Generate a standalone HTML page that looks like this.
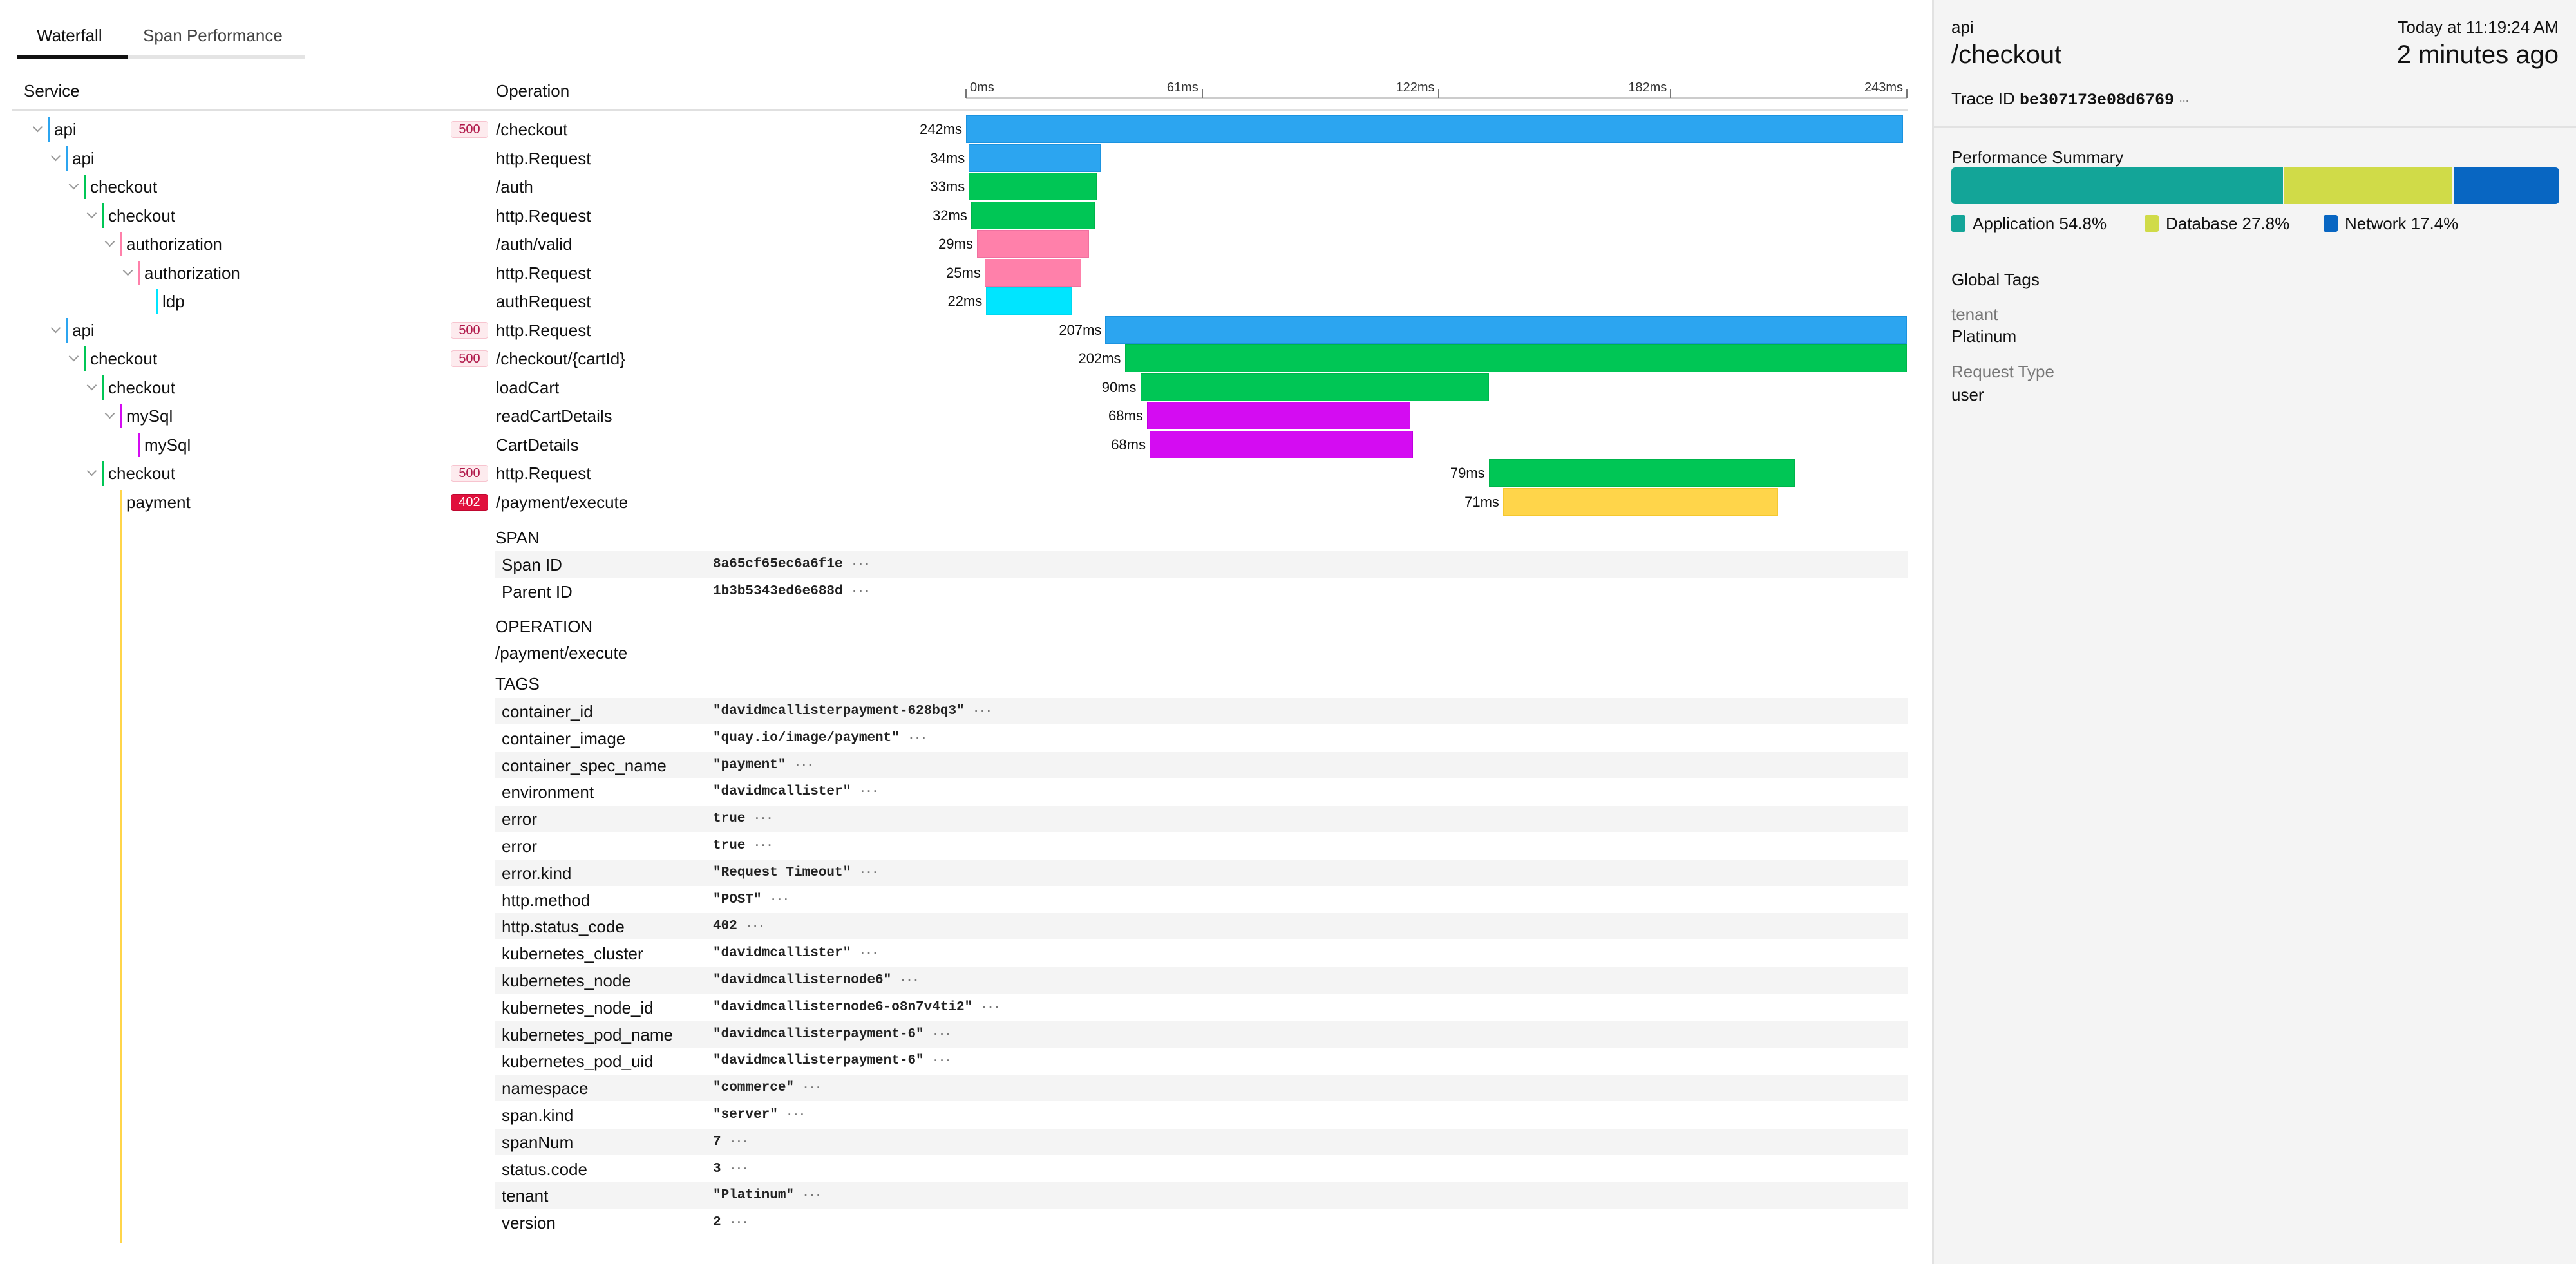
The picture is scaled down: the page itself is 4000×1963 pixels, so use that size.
<!DOCTYPE html>
<html><head><meta charset="utf-8">
<style>
html,body{margin:0;padding:0;width:4000px;height:1963px;overflow:hidden;background:#fff;font-family:"Liberation Sans",sans-serif;color:#111;}
.a{position:absolute;white-space:nowrap;}
.t{font-size:26px;line-height:30px;}
.mono{font-family:"Liberation Mono",monospace;font-weight:bold;font-size:21px;line-height:26px;color:#222;}
.dots{color:#777;font-size:18px;letter-spacing:-1px;}
</style></head>
<body>
<div id="root" style="position:absolute;left:0;top:0;width:4000px;height:1963px;">
  <!-- tabs -->
  <div class="a t" style="left:57px;top:40px;">Waterfall</div>
  <div class="a t" style="left:222px;top:40px;color:#444;">Span Performance</div>
  <div class="a" style="left:27px;top:85px;width:447px;height:6px;background:#e4e4e4;"></div>
  <div class="a" style="left:27px;top:85px;width:171px;height:6px;background:#111;"></div>
  <!-- header -->
  <div class="a t" style="left:37px;top:126px;">Service</div>
  <div class="a t" style="left:770px;top:126px;">Operation</div>
  <div class="a" style="left:18px;top:170px;width:2944px;height:3px;background:#e0e0e0;"></div>
  <div id="axis"></div>
  <div id="rows"></div>
  <div id="detail"></div>

  <!-- right panel -->
  <div class="a" style="left:3000px;top:0;width:1000px;height:1963px;background:#f4f4f4;border-left:3px solid #e2e2e2;box-sizing:border-box;">
    <div class="a t" style="left:27px;top:27px;">api</div>
    <div class="a" style="left:27px;top:62px;font-size:40px;line-height:46px;">/checkout</div>
    <div class="a t" style="right:27px;top:27px;">Today at 11:19:24 AM</div>
    <div class="a" style="right:27px;top:62px;font-size:40px;line-height:46px;">2 minutes ago</div>
    <div class="a t" style="left:27px;top:138px;">Trace ID <span style="font-family:'Liberation Mono',monospace;font-size:25px;font-weight:bold;">be307173e08d6769</span> <span class="dots">···</span></div>
    <div class="a" style="left:0;top:196px;width:1000px;height:3px;background:#e2e2e2;"></div>
    <div class="a t" style="left:27px;top:229px;">Performance Summary</div>
    <div id="perf" class="a" style="left:27px;top:260px;width:944px;height:57px;border-radius:6px;overflow:hidden;"></div>
    <div id="legend" class="a" style="left:27px;top:331px;width:944px;height:32px;"></div>
    <div class="a t" style="left:27px;top:419px;">Global Tags</div>
    <div class="a t" style="left:27px;top:473px;color:#777;">tenant</div>
    <div class="a t" style="left:27px;top:507px;">Platinum</div>
    <div class="a t" style="left:27px;top:562px;color:#777;">Request Type</div>
    <div class="a t" style="left:27px;top:598px;">user</div>
  </div>
</div>
<script>
const tickValues = [0, 61, 122, 182, 243];
const tickLabels = ["0ms", "61ms", "122ms", "182ms", "243ms"];
const services = ["api","api","checkout","checkout","authorization","authorization","ldp","api","checkout","checkout","mySql","mySql","checkout","payment"];
const levels = [0,1,2,3,4,5,6,1,2,3,4,5,3,4];
const expandable = [1,1,1,1,1,1,0,1,1,1,1,0,1,0];
const operations = ["/checkout","http.Request","/auth","http.Request","/auth/valid","http.Request","authRequest","http.Request","/checkout/{cartId}","loadCart","readCartDetails","CartDetails","http.Request","/payment/execute"];
const statuses = ["500","","","","","","","500","500","","","","500","402"];
const startMs = [0, 0.7, 0.7, 1.3, 2.8, 4.8, 5.2, 36, 41, 45, 46.7, 47.4, 135, 138.7];
const durationMs = [242, 34, 33, 32, 29, 25, 22, 207, 202, 90, 68, 68, 79, 71];
const perfLabels = ["Application","Database","Network"];
const perfValues = [54.8, 27.8, 17.4];
const tagKeys = ["container_id","container_image","container_spec_name","environment","error","error","error.kind","http.method","http.status_code","kubernetes_cluster","kubernetes_node","kubernetes_node_id","kubernetes_pod_name","kubernetes_pod_uid","namespace","span.kind","spanNum","status.code","tenant","version"];
const tagValues = ['"davidmcallisterpayment-628bq3"','"quay.io/image/payment"','"payment"','"davidmcallister"','true','true','"Request Timeout"','"POST"','402','"davidmcallister"','"davidmcallisternode6"','"davidmcallisternode6-o8n7v4ti2"','"davidmcallisterpayment-6"','"davidmcallisterpayment-6"','"commerce"','"server"','7','3','"Platinum"','2'];

const svcColor = {api:"#2ca5f0",checkout:"#00c655",authorization:"#ff80aa",ldp:"#00e5ff",mySql:"#d40cf2",payment:"#ffd54a"};
const svcBorder = {api:"#1b93e0",checkout:"#00b44c",authorization:"#f070a0",ldp:"#00d8f0",mySql:"#c000e0",payment:"#f5c830"};
const perfColors = ["#13a598","#d0db48","#0866c2"];
const X0 = 1500, X1 = 2961, MAXMS = 243;
const xs = ms => X0 + ms * (X1 - X0) / MAXMS;
const ROW0 = 201, PITCH = 44.5;
const rowY = i => ROW0 + i * PITCH;

function mk(parent, cls, style, text) {
  const d = document.createElement('div');
  d.className = 'a ' + (cls || '');
  d.style.cssText = style;
  if (text !== undefined) d.textContent = text;
  parent.appendChild(d);
  return d;
}
const root = document.getElementById('root');

// axis
let el = mk(root, '', `left:${X0}px;top:150px;width:${X1 - X0}px;height:3px;background:#ccc;`);


tickValues.forEach((v, i) => {
  const x = xs(v);
  let t = mk(root, '', `left:${x - 1}px;top:138px;width:2px;height:14px;background:#777;`);
  
  
  let lb;
  if (i === 0) lb = mk(root, '', `left:${x + 6}px;top:124px;font-size:20px;line-height:24px;color:#333;`, tickLabels[i]);
  else lb = mk(root, '', `left:${x - 206}px;width:200px;text-align:right;top:124px;font-size:20px;line-height:24px;color:#333;`, tickLabels[i]);
  
  
});

// rows
services.forEach((s, i) => {
  const cy = rowY(i);
  const tx = 84 + 28 * levels[i];
  if (expandable[i]) {
    let c = mk(root, '', `left:${tx - 31}px;top:${cy - 9}px;width:9px;height:9px;border-right:2px solid #999;border-bottom:2px solid #999;transform:rotate(45deg);`);
    
    
  }
  let cb = mk(root, '', `left:${tx - 9}px;top:${cy - 19}px;width:3px;height:38px;background:${svcColor[s]};`);
  
  
  let st = mk(root, 't', `left:${tx}px;top:${cy - 15}px;`, s);
  
  
  if (statuses[i]) {
    const red = statuses[i] === '402';
    let b = mk(root, '', `left:700px;top:${cy - 13}px;width:58px;height:26px;border-radius:4px;box-sizing:border-box;text-align:center;font-size:20px;line-height:24px;` +
      (red ? 'background:#e0103c;color:#fff;border:1px solid #c00830;' : 'background:#fdebee;color:#b0184a;border:1px solid #f7c4cf;'), statuses[i]);
    
    
  }
  let op = mk(root, 't', `left:770px;top:${cy - 15}px;`, operations[i]);
  
  
  const bx = xs(startMs[i]), bw = xs(startMs[i] + durationMs[i]) - bx;
  let bar = mk(root, '', `left:${bx}px;top:${cy - 22}px;width:${bw}px;height:43px;background:${svcColor[s]};border:1px solid ${svcBorder[s]};box-sizing:border-box;`);
  
  
  let dl = mk(root, '', `left:${bx - 306}px;width:300px;text-align:right;top:${cy - 13}px;font-size:22px;line-height:26px;color:#111;`, durationMs[i] + 'ms');
  
  
});

// payment continuation line
el = mk(root, '', `left:187px;top:${rowY(13) + 19}px;width:3px;height:${1930 - rowY(13) - 19}px;background:#ffd54a;`);



// detail
function label(text, y, name) {
  let l = mk(root, 't', `left:769px;top:${y - 15}px;`, text);
  
  
}
function kvRow(k, v, cy, shaded, name) {
  if (shaded) {
    let bg = mk(root, '', `left:769px;top:${cy - 21}px;width:2193px;height:41px;background:#f4f4f4;`);
    
    
  }
  let kk = mk(root, 't', `left:779px;top:${cy - 15}px;`, k);
  
  
  let vv = mk(root, 'mono', `left:1107px;top:${cy - 13}px;`, v + ' ');
  
  
  let dd = document.createElement('span');
  dd.className = 'dots';
  dd.textContent = '  ···';
  
  
  vv.appendChild(dd);
}
label('SPAN', 835, 'span-section-title');
kvRow('Span ID', '8a65cf65ec6a6f1e', 877, true, 'span-id');
kvRow('Parent ID', '1b3b5343ed6e688d', 919, false, 'parent-id');
label('OPERATION', 973, 'operation-section-title');
el = mk(root, 't', `left:769px;top:999px;`, '/payment/execute ');


label('TAGS', 1062, 'tags-section-title');
tagKeys.forEach((k, i) => kvRow(k, tagValues[i], 1105 + i * 41.8, i % 2 === 0, 'tag'));

// perf summary
const perf = document.getElementById('perf');
const total = perfValues.reduce((a, b) => a + b, 0);
perfValues.forEach((v, i) => {
  const seg = document.createElement('div');
  seg.style.cssText = `float:left;height:57px;width:${v / total * 944 - (i < 2 ? 2 : 0)}px;margin-right:${i < 2 ? 2 : 0}px;background:${perfColors[i]};`;
  
  
  perf.appendChild(seg);
});
const legend = document.getElementById('legend');
const legX = [0, 300, 578];
perfLabels.forEach((l, i) => {
  const sq = mk(legend, '', `left:${legX[i]}px;top:3px;width:22px;height:26px;border-radius:3px;background:${perfColors[i]};`);
  
  
  const tx = mk(legend, 't', `left:${legX[i] + 33}px;top:1px;`, l + ' ' + perfValues[i] + '%');
  
  
});
</script>
</body></html>
